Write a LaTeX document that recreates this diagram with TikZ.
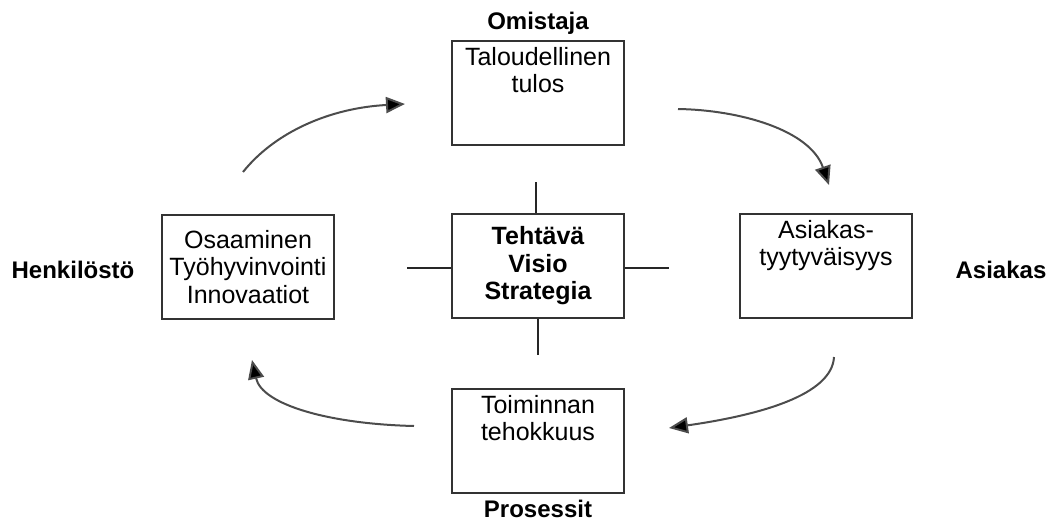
\documentclass[tikz,border=0pt]{standalone}
\usepackage{fontspec}
\setmainfont{Liberation Sans}
\usetikzlibrary{arrows.meta}

\begin{document}
\begin{tikzpicture}[x=1pt,y=-1pt,
  box/.style={draw=black!80, line width=1.8pt, fill=white, minimum width=172pt, minimum height=104pt, inner sep=0pt, align=center, font=\fontsize{25}{27.5}\selectfont},
  boxtxt/.style={anchor=north, inner sep=7pt, align=center, font=\fontsize{25}{27.5}\selectfont},
  side/.style={anchor=base, font=\bfseries\fontsize{24}{28}\selectfont},
  flow/.style={-{Triangle[length=19pt,width=16pt,fill=black]}, line width=2pt, draw=black!70},
  spoke/.style={line width=2.2pt, draw=black!85}]
  \useasboundingbox (0,0) rectangle (1054,522);

  % boxes
  \node[box, label={[boxtxt]north:Taloudellinen\\tulos}] (tulos) at (538,93) {};
  \node[box] (osaaminen) at (248,267) {Osaaminen\\Työhyvinvointi\\Innovaatiot};
  \node[box, font=\bfseries\fontsize{25}{27.5}\selectfont] (visio) at (538,266) {Tehtävä\\Visio\\Strategia};
  \node[box, label={[boxtxt]north:Asiakas-\\tyytyväisyys}] (asiakas) at (826,266) {};
  \node[box, label={[boxtxt]north:Toiminnan\\tehokkuus}] (tehokkuus) at (538,441) {};

  % perspectives
  \node[side] (omistaja) at (538,29) {Omistaja};
  \node[side] (henkilosto) at (73,278) {Henkilöstö};
  \node[side] (asiakaslbl) at (1001,278) {Asiakas};
  \node[side] (prosessit) at (538,517) {Prosessit};

  % spokes of the centre box
  \coordinate (sn) at (536,182);
  \coordinate (ss) at (538,355);
  \coordinate (sw) at (407,268);
  \coordinate (se) at (669,268);
  \draw[spoke] (sn) -- (visio.north -| sn);
  \draw[spoke] (visio.south -| ss) -- (ss);
  \draw[spoke] (sw) -- (visio.west |- sw);
  \draw[spoke] (visio.east |- se) -- (se);

  % cycle
  \coordinate (a1) at (243,172);  \coordinate (a2) at (405,104);
  \coordinate (b1) at (678,109);  \coordinate (b2) at (829,185);
  \coordinate (c1) at (834,357);  \coordinate (c2) at (669,428);
  \coordinate (d1) at (414,426);  \coordinate (d2) at (252,360);
  \draw[flow] (a1) .. controls (275,132) and (330,108) .. (a2);
  \draw[flow] (b1) .. controls (740,110) and (810,130) .. (b2);
  \draw[flow] (c1) .. controls (832,395) and (760,415) .. (c2);
  \draw[flow] (d1) .. controls (330,424) and (262,405) .. (d2);
\end{tikzpicture}
\end{document}
